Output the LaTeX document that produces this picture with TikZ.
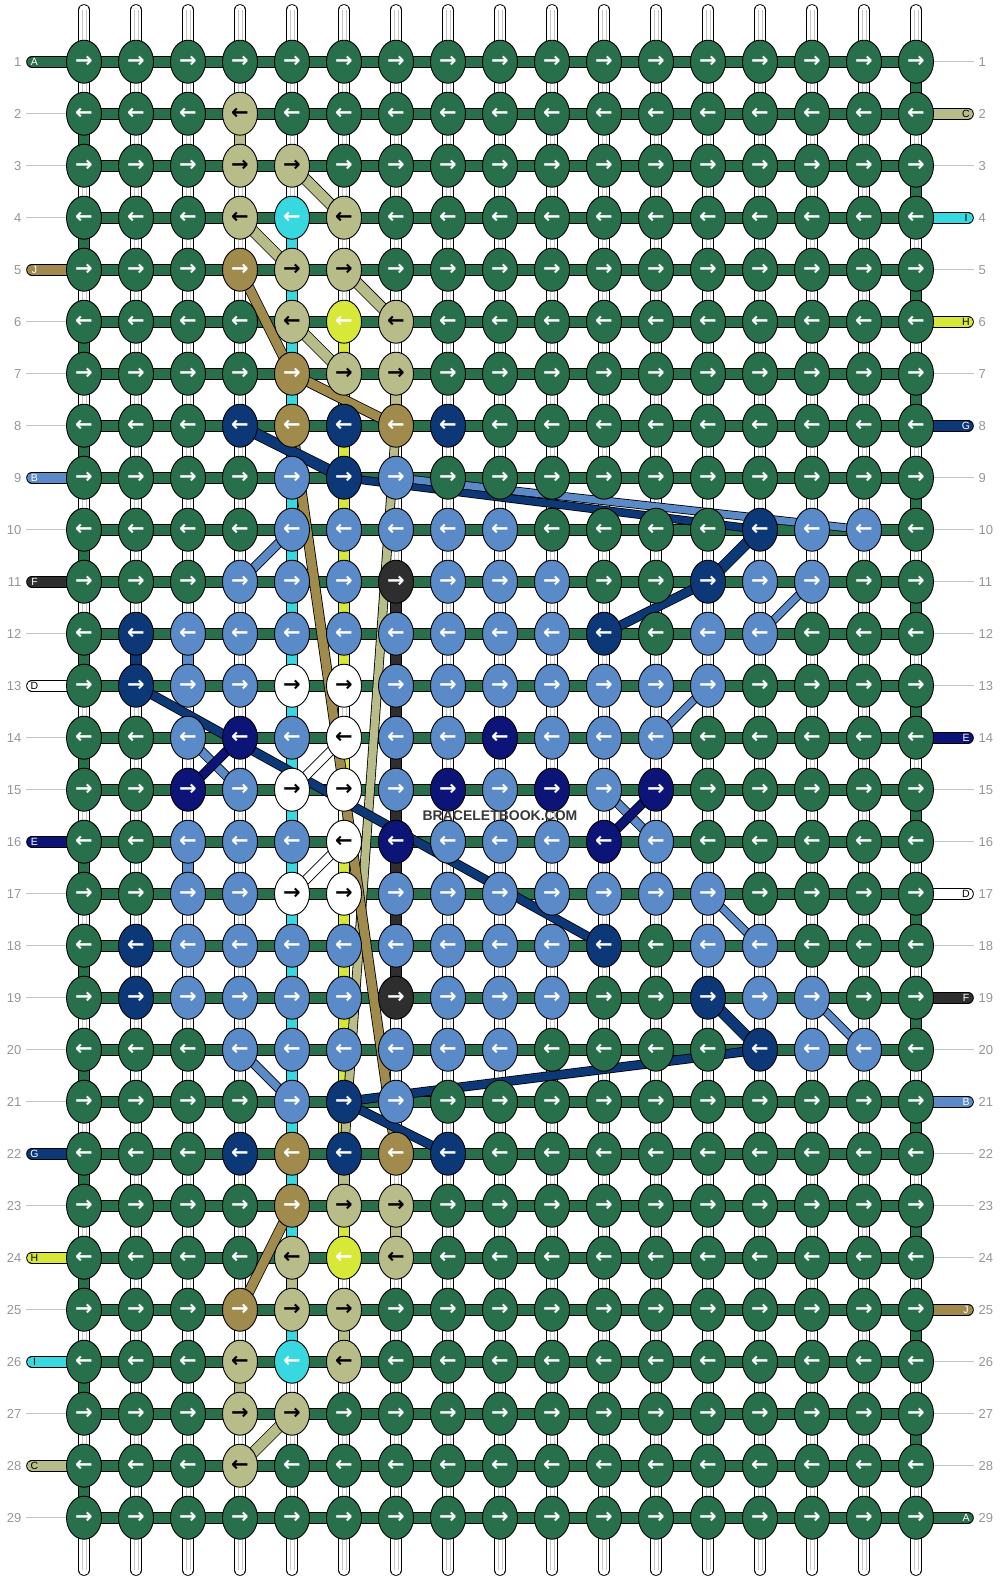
\documentclass[tikz,border=0pt]{standalone}
\usepackage{fontspec}
\setmainfont{Liberation Sans}
\newfontfamily\arrowfont{DejaVu Sans}
\usetikzlibrary{shapes.geometric}

\definecolor{cA}{RGB}{40,112,76}
\definecolor{cB}{RGB}{90,138,200}
\definecolor{cC}{RGB}{184,188,136}
\definecolor{cD}{RGB}{255,255,255}
\definecolor{cE}{RGB}{12,20,120}
\definecolor{cF}{RGB}{46,46,46}
\definecolor{cG}{RGB}{12,56,120}
\definecolor{cH}{RGB}{216,232,56}
\definecolor{cI}{RGB}{56,216,224}
\definecolor{cJ}{RGB}{160,138,76}
\definecolor{numgray}{RGB}{150,150,150}
\definecolor{linegray}{RGB}{195,195,195}
\definecolor{innergray}{RGB}{200,200,200}
\colorlet{acA}{white}\colorlet{acB}{white}\colorlet{acC}{black}
\colorlet{acD}{black}\colorlet{acE}{white}\colorlet{acF}{white}
\colorlet{acG}{white}\colorlet{acH}{white}\colorlet{acI}{white}
\colorlet{acJ}{white}

\newcount\kcol
\newcommand\placeknot[3]{%
  \edef\kr{#1}\edef\kc{#2}%
  \ifodd\kr\relax\def\karr{→}\else\def\karr{←}\fi
  \node[knot, fill=c#3, text=ac#3] (k-\kr-\kc) at (p-\kr-\kc) {\karr};}
\newcommand\knotrow[2]{\gdef\currow{#1}\global\kcol=0 \knotrowi#2\relax}
\def\knotrowi#1{\ifx#1\relax\else\global\advance\kcol by 1 \placeknot{\currow}{\the\kcol}{#1}\expandafter\knotrowi\fi}

\newcommand\wseg[2]{\edef\vr{#1}\edef\vc{#2}\pgfmathtruncatemacro\vn{#1+1}%
  \draw[line width=11.6pt,black] (p-\vr-\vc) -- (p-\vn-\vc);
  \draw[line width=10pt,white] (p-\vr-\vc) -- (p-\vn-\vc);
  \draw[line width=0.7pt,innergray] ([xshift=-2pt]p-\vr-\vc) -- ([xshift=-2pt]p-\vn-\vc);
  \draw[line width=0.7pt,innergray] ([xshift=2pt]p-\vr-\vc) -- ([xshift=2pt]p-\vn-\vc);}
\newcommand\vseg[3]{\edef\vr{#1}\edef\vc{#2}\pgfmathtruncatemacro\vn{#1+1}%
  \draw[line width=11.6pt,black] (p-\vr-\vc) -- (p-\vn-\vc);
  \draw[line width=10pt,#3] (p-\vr-\vc) -- (p-\vn-\vc);}
\newcommand\strand[4]{\pgfmathsetmacro\swo{#2+1.6}%
  \draw[line width=\swo pt, black] (#3) -- (#4);
  \draw[line width=#2pt, #1] (#3) -- (#4);}
\newcommand\lbar[3]{%
  \coordinate (lb-#1) at (32,{61.7+52*(#1-1)});
  \draw[line width=11.6pt,black,line cap=round] (lb-#1) -- (p-#1-1);
  \draw[line width=10pt,c#2,line cap=round] (lb-#1) -- (p-#1-1);
  \node[lettr, text=#3] (lt-#1) at (34.5,{61.7+52*(#1-1)}) {#2};}
\newcommand\rbar[3]{%
  \coordinate (rb-#1) at (968,{61.7+52*(#1-1)});
  \draw[line width=11.6pt,black,line cap=round] (p-#1-17) -- (rb-#1);
  \draw[line width=10pt,c#2,line cap=round] (p-#1-17) -- (rb-#1);
  \node[lettr, text=#3] (rt-#1) at (966,{61.7+52*(#1-1)}) {#2};}
\newcommand\lline[1]{\coordinate (ll-#1) at (26,{61.7+52*(#1-1)});
  \draw[gridline] (ll-#1) -- (p-#1-1);}
\newcommand\rline[1]{\coordinate (rl-#1) at (974,{61.7+52*(#1-1)});
  \draw[gridline] (p-#1-17) -- (rl-#1);}

\begin{document}
\begin{tikzpicture}[x=1pt,y=-1pt,
  knot/.style={ellipse, draw=black, line width=0.9pt, minimum width=35pt,
    minimum height=43pt, inner sep=0pt,
    font=\arrowfont\bfseries\fontsize{21}{21}\selectfont},
  rownum/.style={font=\fontsize{13}{13}\selectfont, text=numgray, inner sep=0pt},
  lettr/.style={font=\fontsize{10.5}{10.5}\selectfont, inner sep=0pt},
  gridline/.style={draw=linegray, line width=1pt}]
\fill[white] (0,0) rectangle (1000,1580);
\useasboundingbox (0,0) rectangle (1000,1580);

% grid coordinates
\foreach \r in {1,...,29}{\foreach \c in {1,...,17}{%
  \coordinate (p-\r-\c) at ({84+52*(\c-1)},{61.7+52*(\r-1)});}}

% top and bottom strings
\foreach \c in {1,...,17}{%
  \coordinate (t-\c) at ({84+52*(\c-1)},10);
  \coordinate (b-\c) at ({84+52*(\c-1)},1570);
  \draw[line width=11.6pt,black,line cap=round] (t-\c) -- (p-1-\c);
  \draw[line width=10pt,white,line cap=round] (t-\c) -- (p-1-\c);
  \draw[line width=0.7pt,innergray] ([xshift=-2pt]t-\c) -- ([xshift=-2pt]p-1-\c);
  \draw[line width=0.7pt,innergray] ([xshift=2pt]t-\c) -- ([xshift=2pt]p-1-\c);
  \draw[line width=11.6pt,black,line cap=round] (p-29-\c) -- (b-\c);
  \draw[line width=10pt,white,line cap=round] (p-29-\c) -- (b-\c);
  \draw[line width=0.7pt,innergray] ([xshift=-2pt]p-29-\c) -- ([xshift=-2pt]b-\c);
  \draw[line width=0.7pt,innergray] ([xshift=2pt]p-29-\c) -- ([xshift=2pt]b-\c);
}

% vertical segments between rows
\foreach \r in {1,...,28}{\foreach \c in {1,...,17}{\wseg{\r}{\c}}}
\foreach \r in {2,4,...,28}{\vseg{\r}{1}{cA}}
\foreach \r in {1,3,...,27}{\vseg{\r}{17}{cA}}
\foreach \r in {4,...,23,25}{\vseg{\r}{5}{cI}}
\foreach \r in {6,...,12,14,16,17,18,19,20,21,23}{\vseg{\r}{6}{cH}}
\foreach \r in {11,...,18}{\vseg{\r}{7}{cF}}
\vseg{2}{4}{cC}\vseg{7}{7}{cC}\vseg{22}{6}{cC}\vseg{23}{7}{cC}
\vseg{24}{5}{cC}\vseg{25}{6}{cC}\vseg{26}{4}{cC}
\vseg{12}{2}{cG}\vseg{12}{3}{cB}\vseg{16}{3}{cB}

% horizontal strands
\foreach \r in {1,...,29}{%
  \draw[line width=11.6pt,black] (p-\r-1) -- (p-\r-17);
  \draw[line width=10pt,cA] (p-\r-1) -- (p-\r-17);}

% row ends
\lbar{1}{A}{white}\lbar{5}{J}{white}\lbar{9}{B}{white}\lbar{11}{F}{white}
\lbar{13}{D}{black}\lbar{16}{E}{white}\lbar{22}{G}{white}\lbar{24}{H}{black}
\lbar{26}{I}{black}\lbar{28}{C}{black}
\foreach \r in {2,3,4,6,7,8,10,12,14,15,17,18,19,20,21,23,25,27,29}{\lline{\r}}
\rbar{2}{C}{black}\rbar{4}{I}{black}\rbar{6}{H}{black}\rbar{8}{G}{white}
\rbar{14}{E}{white}\rbar{17}{D}{black}\rbar{19}{F}{white}\rbar{21}{B}{white}
\rbar{25}{J}{white}\rbar{29}{A}{white}
\foreach \r in {1,3,5,7,9,10,11,12,13,15,16,18,20,22,23,24,26,27,28}{\rline{\r}}
\foreach \r in {1,...,29}{%
  \node[rownum, anchor=east] (ln-\r) at (21.5,{61.7+52*(\r-1)}) {\r};
  \node[rownum, anchor=west] (rn-\r) at (978.5,{61.7+52*(\r-1)}) {\r};}

% floating strands
\strand{cC}{8}{p-8-7}{p-22-6}
\strand{cJ}{9}{p-8-5}{p-22-7}
\strand{cC}{10}{p-3-5}{p-4-6}
\strand{cC}{10}{p-4-4}{p-5-5}
\strand{cC}{10}{p-5-6}{p-6-7}
\strand{cC}{10}{p-6-5}{p-7-6}
\strand{cJ}{9}{p-5-4}{p-7-5}
\strand{cJ}{9}{p-7-5}{p-8-7}
\strand{cG}{10}{p-8-4}{p-9-6}
\strand{cG}{7}{p-9-6}{p-10-14}
\strand{cB}{7}{p-9-7}{p-10-16}
\strand{cB}{8}{p-11-4}{p-10-5}
\strand{cG}{10}{p-10-14}{p-11-13}
\strand{cG}{8}{p-11-13}{p-12-11}
\strand{cB}{7}{p-11-15}{p-12-14}
\strand{cB}{7}{p-13-13}{p-14-12}
\strand{cB}{8}{p-14-3}{p-15-4}
\strand{cE}{8}{p-15-3}{p-14-4}
\strand{cG}{8}{p-13-2}{p-18-11}
\strand{cD}{8}{p-14-6}{p-15-5}
\strand{cD}{8}{p-16-6}{p-17-5}
\strand{cB}{8}{p-15-11}{p-16-12}
\strand{cE}{8}{p-15-12}{p-16-11}
\strand{cB}{7}{p-17-13}{p-18-14}
\strand{cG}{10}{p-19-13}{p-20-14}
\strand{cB}{7}{p-19-15}{p-20-16}
\strand{cG}{8}{p-20-14}{p-21-6}
\strand{cG}{8}{p-21-6}{p-22-8}
\strand{cB}{8}{p-20-4}{p-21-5}
\strand{cJ}{9}{p-23-5}{p-25-4}
\strand{cC}{10}{p-27-5}{p-28-4}

% knots
\knotrow{1}{AAAAAAAAAAAAAAAAA}
\knotrow{2}{AAACAAAAAAAAAAAAA}
\knotrow{3}{AAACCAAAAAAAAAAAA}
\knotrow{4}{AAACICAAAAAAAAAAA}
\knotrow{5}{AAAJCCAAAAAAAAAAA}
\knotrow{6}{AAAACHCAAAAAAAAAA}
\knotrow{7}{AAAAJCCAAAAAAAAAA}
\knotrow{8}{AAAGJGJGAAAAAAAAA}
\knotrow{9}{AAAABGBAAAAAAAAAA}
\knotrow{10}{AAAABBBBBAAAAGBBA}
\knotrow{11}{AAABBBFBBBAAGBBAA}
\knotrow{12}{AGBBBBBBBBGABBAAA}
\knotrow{13}{AGBBDDBBBBBBBAAAA}
\knotrow{14}{AABEBDBBEBBBAAAAA}
\knotrow{15}{AAEBDDBEBEBEAAAAA}
\knotrow{16}{AABBBDEBBBEBAAAAA}
\knotrow{17}{AABBDDBBBBBBBAAAA}
\knotrow{18}{AGBBBBBBBBGABBAAA}
\knotrow{19}{AGBBBBFBBBAAGBBAA}
\knotrow{20}{AAABBBBBBAAAAGBBA}
\knotrow{21}{AAAABGBAAAAAAAAAA}
\knotrow{22}{AAAGJGJGAAAAAAAAA}
\knotrow{23}{AAAAJCCAAAAAAAAAA}
\knotrow{24}{AAAACHCAAAAAAAAAA}
\knotrow{25}{AAAJCCAAAAAAAAAAA}
\knotrow{26}{AAACICAAAAAAAAAAA}
\knotrow{27}{AAACCAAAAAAAAAAAA}
\knotrow{28}{AAACAAAAAAAAAAAAA}
\knotrow{29}{AAAAAAAAAAAAAAAAA}

\node[font=\bfseries\fontsize{14}{14}\selectfont, text=black!78, inner sep=0pt] (wm) at (500,816) {BRACELETBOOK.COM};
\end{tikzpicture}
\end{document}
